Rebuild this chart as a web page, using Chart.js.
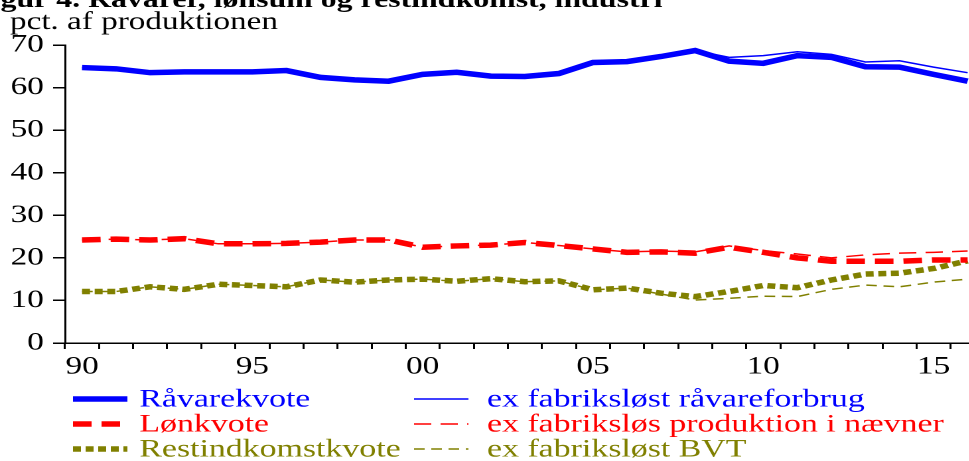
<!DOCTYPE html>
<html>
<head>
<meta charset="utf-8">
<script src="https://cdn.jsdelivr.net/npm/chart.js@4.4.1/dist/chart.umd.min.js"></script>
<style>
  html, body { margin: 0; padding: 0; background: #fff; overflow: hidden; }
  /* the reference is stretched horizontally, so the whole chart is too */
  #wrap { position: absolute; left: 0; top: 0; width: 742px; height: 461px; transform: scaleX(1.327); transform-origin: 0 0; }
</style>
</head>
<body>
<div id="wrap"><canvas id="chart" width="742" height="461" style="width:742px;height:461px"></canvas></div>
<script>
const figTitle = 'Figur 4. Råvarer, lønsum og restindkomst, industri';
const subTitle = 'pct. af produktionen';

const years = [1990, 1991, 1992, 1993, 1994, 1995, 1996, 1997, 1998, 1999, 2000, 2001, 2002, 2003,
    2004, 2005, 2006, 2007, 2008, 2009, 2010, 2011, 2012, 2013, 2014, 2015, 2016];
const labeledYears = [1990, 1995, 2000, 2005, 2010, 2015];

const raavare = [64.7, 64.4, 63.5, 63.7, 63.7, 63.7, 64.0, 62.4, 61.8, 61.5, 63.1, 63.6, 62.7, 62.6,
    63.3, 65.9, 66.1, 67.3, 68.7, 66.2, 65.7, 67.5, 67.1, 64.9, 64.8, 63.1, 61.5];
const raavareEx = [64.7, 64.4, 63.5, 63.7, 63.7, 63.7, 64.0, 62.4, 61.8, 61.5, 63.1, 63.6, 62.7, 62.6,
    63.3, 65.9, 66.1, 67.3, 68.7, 67.1, 67.5, 68.4, 67.8, 66.0, 66.3, 64.8, 63.5];
const loen = [24.2, 24.4, 24.2, 24.5, 23.3, 23.3, 23.4, 23.7, 24.2, 24.2, 22.5, 22.8, 23.0, 23.6,
    22.9, 22.1, 21.3, 21.4, 21.1, 22.5, 21.3, 20.0, 19.2, 19.2, 19.2, 19.5, 19.5];
const loenEx = [24.2, 24.4, 24.2, 24.5, 23.3, 23.3, 23.4, 23.7, 24.2, 24.2, 22.5, 22.8, 23.0, 23.6,
    22.9, 22.1, 21.4, 21.6, 21.4, 22.8, 21.7, 20.9, 20.0, 20.7, 21.1, 21.3, 21.6];
const rest = [12.1, 12.1, 13.2, 12.6, 13.8, 13.5, 13.2, 14.8, 14.3, 14.8, 15.0, 14.5, 15.1, 14.4,
    14.6, 12.5, 12.9, 11.7, 10.9, 12.1, 13.5, 13.0, 14.8, 16.2, 16.4, 17.5, 19.3];
const restEx = [12.1, 12.1, 13.2, 12.6, 13.8, 13.5, 13.2, 14.8, 14.3, 14.8, 15.0, 14.5, 15.1, 14.4,
    14.6, 12.5, 12.9, 11.5, 10.1, 10.5, 11.0, 10.9, 12.6, 13.6, 13.2, 14.3, 15.0];

const BLUE = '#0000ff';
const RED = '#ff0000';
const OLIVE = '#808000';

Chart.defaults.font.family = '"Liberation Serif", "Times New Roman", serif';
Chart.defaults.color = '#000';

// title, subtitle and the two-column legend
const figText = {
    id: 'figText',
    afterDraw(chart) {
        const ctx = chart.ctx;
        ctx.save();
        ctx.fillStyle = '#000';
        ctx.textBaseline = 'alphabetic';
        ctx.font = 'bold 24px "Liberation Serif"';
        ctx.fillText(figTitle, -21, 7);
        ctx.font = '25px "Liberation Serif"';
        ctx.fillText(subTitle, 7.5, 29);

        ctx.font = '25.5px "Liberation Serif"';
        ctx.textBaseline = 'middle';
        chart.data.datasets.forEach((ds, i) => {
            const col = i < 3 ? 0 : 1;
            const y = 399 + (i % 3) * 25;
            const x0 = col ? 312 : 55;
            ctx.strokeStyle = ds.borderColor;
            ctx.lineWidth = ds.borderWidth;
            ctx.lineCap = 'butt';
            ctx.setLineDash(ds.borderDash || []);
            ctx.beginPath();
            ctx.moveTo(x0, y);
            ctx.lineTo(x0 + 41, y);
            ctx.stroke();
            ctx.setLineDash([]);
            ctx.fillStyle = ds.borderColor;
            ctx.fillText(ds.label, col ? 367 : 105, y + 1);
        });
        ctx.restore();
    }
};

const ctx = document.getElementById('chart').getContext('2d');
new Chart(ctx, {
    type: 'line',
    data: {
        labels: years,
        datasets: [
            { label: 'Råvarekvote', data: raavare, borderColor: BLUE, borderWidth: 5.5, order: 1 },
            { label: 'Lønkvote', data: loen, borderColor: RED, borderWidth: 5.5, borderDash: [14, 7.5], order: 1 },
            { label: 'Restindkomstkvote', data: rest, borderColor: OLIVE, borderWidth: 5.5, borderDash: [6, 3.5], order: 1 },
            { label: 'ex fabriksløst råvareforbrug', data: raavareEx, borderColor: BLUE, borderWidth: 1.5, order: 0 },
            { label: 'ex fabriksløs produktion i nævner', data: loenEx, borderColor: RED, borderWidth: 1.5, borderDash: [13, 7], order: 0 },
            { label: 'ex fabriksløst BVT', data: restEx, borderColor: OLIVE, borderWidth: 1.5, borderDash: [8, 5], order: 0 }
        ]
    },
    options: {
        responsive: false,
        animation: false,
        devicePixelRatio: 2,
        layout: { padding: { top: 45, left: 0, right: 0, bottom: 76 } },
        elements: {
            point: { radius: 0 },
            line: { tension: 0, borderCapStyle: 'butt', fill: false }
        },
        plugins: {
            legend: { display: false },
            tooltip: { enabled: false }
        },
        scales: {
            x: {
                type: 'category',
                offset: true,
                grid: { offset: true, drawOnChartArea: false, color: '#000', tickLength: 6, lineWidth: 1.5 },
                border: { color: '#000', width: 1.5 },
                ticks: {
                    autoSkip: false,
                    maxRotation: 0,
                    padding: 3,
                    font: { size: 25 },
                    callback: function (value, index) {
                        const y = years[index];
                        return labeledYears.includes(y) ? String(y).slice(2) : '';
                    }
                },
                afterFit: function (scale) { scale.height = 42; }
            },
            y: {
                min: 0,
                max: 70,
                grid: { drawOnChartArea: false, color: '#000', tickLength: 9, lineWidth: 1.5 },
                border: { color: '#000', width: 1.5 },
                ticks: { stepSize: 10, padding: 7, font: { size: 25 } },
                afterFit: function (scale) { scale.width = 49; }
            }
        }
    },
    plugins: [figText]
});
</script>
</body>
</html>
